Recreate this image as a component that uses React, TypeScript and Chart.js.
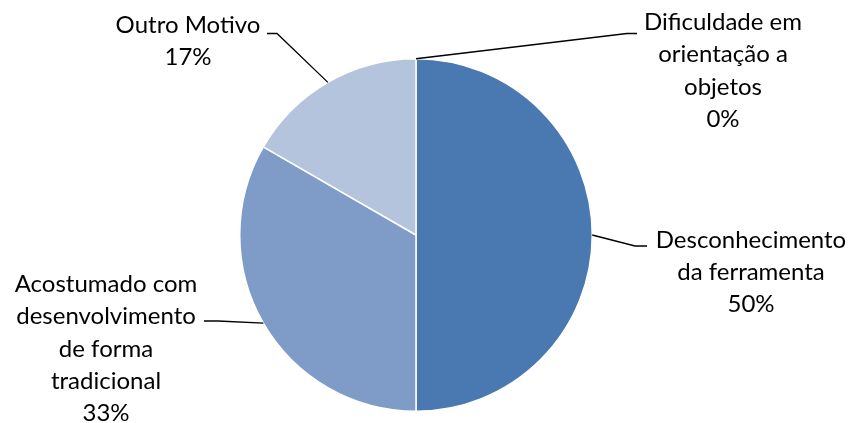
import React, { useEffect, useRef } from "react";
import { Chart, registerables } from "chart.js";

Chart.register(...registerables);

const categories: string[][] = [
  ["Dificuldade em", "orientação a", "objetos"],
  ["Desconhecimento", "da ferramenta"],
  ["Acostumado com", "desenvolvimento", "de forma", "tradicional"],
  ["Outro Motivo"],
];
const counts: number[] = [0, 3, 2, 1];
const colors: string[] = ["#4A78B0", "#4A78B0", "#7F9CC8", "#B5C4DD"];

// label layout: elbow/end of leader line and text block (center x, first baseline)
const labelLayout = [
  { elbow: [627, 33.5], end: [637, 33.5], tx: 723, ty: 30 },
  { elbow: [635, 246], end: [647, 246], tx: 751, ty: 247.5 },
  { elbow: [218, 321], end: [204, 321], tx: 106, ty: 292 },
  { elbow: [277, 33.5], end: [267, 33.5], tx: 188, ty: 33 },
];

const FONT = "24px Lato";
const LINE_H = 32.3;

const labelPlugin = {
  id: "pieLabels",
  afterDatasetsDraw(chart: any) {
    const ctx = chart.ctx;
    const meta = chart.getDatasetMeta(0);
    const data = chart.data.datasets[0].data as number[];
    const total = data.reduce((a, b) => a + b, 0);
    ctx.save();
    meta.data.forEach((arc: any, i: number) => {
      const { x, y, startAngle, endAngle, outerRadius } = arc.getProps(
        ["x", "y", "startAngle", "endAngle", "outerRadius"],
        true
      );
      const mid = (startAngle + endAngle) / 2;
      const px = x + Math.cos(mid) * outerRadius;
      const py = y + Math.sin(mid) * outerRadius;
      const lay = labelLayout[i];
      ctx.strokeStyle = "#000";
      ctx.lineWidth = 1.3;
      ctx.beginPath();
      ctx.moveTo(px, py);
      ctx.lineTo(lay.elbow[0], lay.elbow[1]);
      ctx.lineTo(lay.end[0], lay.end[1]);
      ctx.stroke();
      const lines = [...categories[i], Math.round((data[i] / total) * 100) + "%"];
      ctx.fillStyle = "#000";
      ctx.font = FONT;
      ctx.textAlign = "center";
      ctx.textBaseline = "alphabetic";
      lines.forEach((t, k) => ctx.fillText(t, lay.tx, lay.ty + k * LINE_H));
    });
    ctx.restore();
  },
};

export default function App() {
  const ref = useRef<HTMLCanvasElement | null>(null);
  useEffect(() => {
    if (!ref.current) return;
    const chart = new Chart(ref.current, {
      type: "pie",
      data: {
        labels: categories.map((c) => c.join(" ")),
        datasets: [
          {
            data: counts,
            backgroundColor: colors,
            borderColor: "#FFFFFF",
            borderWidth: 1.5,
            hoverOffset: 0,
            offset: 0,
          },
        ],
      },
      options: {
        responsive: false,
        animation: false,
        layout: { padding: { top: 58, bottom: 11, left: 0, right: 19 } },
        plugins: { legend: { display: false }, tooltip: { enabled: false } },
      },
      plugins: [labelPlugin],
    });
    return () => chart.destroy();
  }, []);
  return (
    <div style={{ position: "fixed", left: 0, top: 0, width: 851, height: 423, background: "#fff" }}>
      <canvas ref={ref} width={851} height={423} style={{ width: 851, height: 423 }} />
    </div>
  );
}
